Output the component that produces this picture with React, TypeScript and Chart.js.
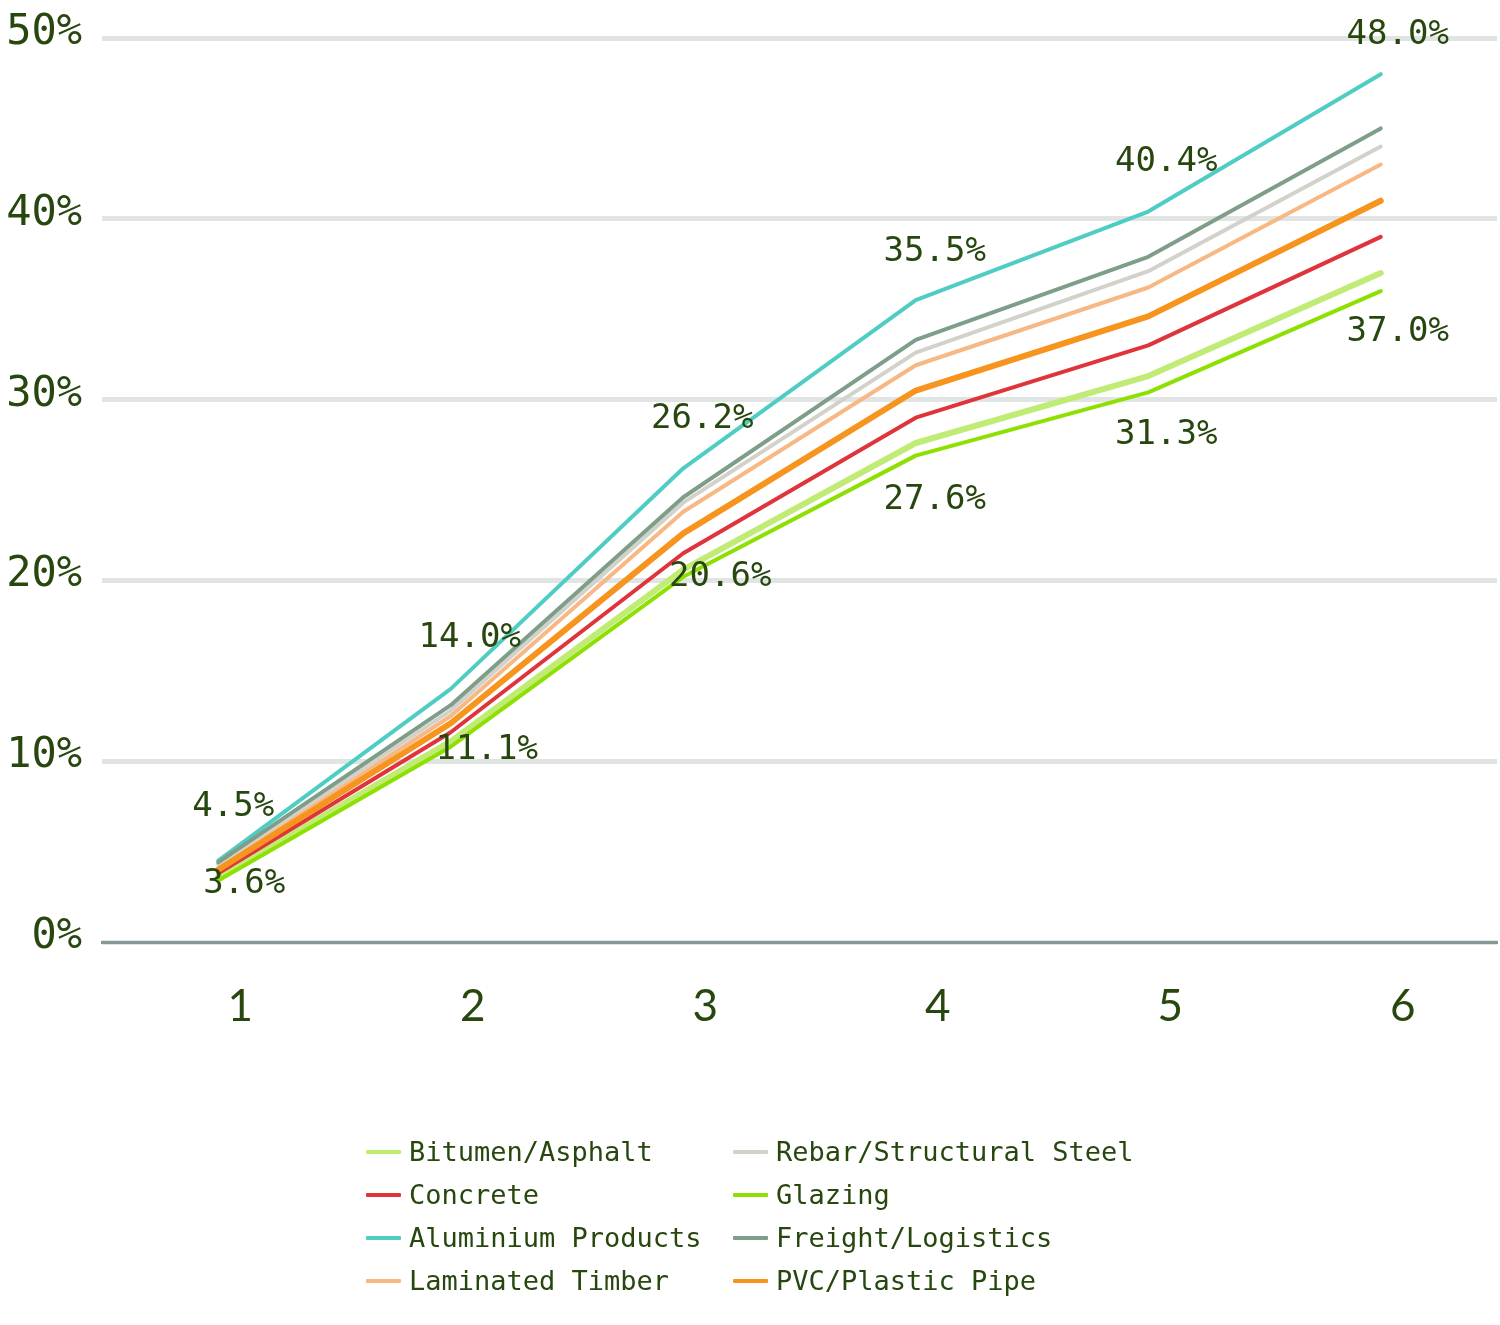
import { useEffect, useRef } from 'react'
import { Chart, registerables } from 'chart.js'

Chart.register(...registerables)

// periods on the x axis
const periods = ['1', '2', '3', '4', '5', '6']

// cumulative increase per material, in %
const bitumen = [3.6, 11.1, 20.6, 27.6, 31.3, 37.0]
const concrete = [3.8, 11.6, 21.5, 29.0, 33.0, 39.0]
const aluminium = [4.5, 14.0, 26.2, 35.5, 40.4, 48.0]
const laminated = [4.1, 12.5, 23.8, 31.9, 36.2, 43.0]
const rebar = [4.3, 12.8, 24.3, 32.6, 37.1, 44.0]
const glazing = [3.4, 10.8, 20.2, 26.9, 30.4, 36.0]
const freight = [4.4, 13.1, 24.6, 33.3, 37.9, 45.0]
const pvc = [4.0, 12.1, 22.6, 30.5, 34.6, 41.0]

const yTicks = [0, 10, 20, 30, 40, 50]

const TEXT = '#27470f'
const MONO = '"DejaVu Sans Mono", "Liberation Mono", monospace'

const series = [
  { label: 'Bitumen/Asphalt', data: bitumen, color: '#c0ec76', width: 6 },
  { label: 'Concrete', data: concrete, color: '#df343b', width: 4 },
  { label: 'Aluminium Products', data: aluminium, color: '#4fcdc4', width: 4 },
  { label: 'Laminated Timber', data: laminated, color: '#f8b884', width: 4 },
  { label: 'Rebar/Structural Steel', data: rebar, color: '#d2d2ca', width: 4 },
  { label: 'Glazing', data: glazing, color: '#8ee002', width: 4 },
  { label: 'Freight/Logistics', data: freight, color: '#7f9e89', width: 4 },
  { label: 'PVC/Plastic Pipe', data: pvc, color: '#f7941d', width: 6 },
]

// legend grid order: left column then right column
const legendLeft = ['Bitumen/Asphalt', 'Concrete', 'Aluminium Products', 'Laminated Timber']
const legendRight = ['Rebar/Structural Steel', 'Glazing', 'Freight/Logistics', 'PVC/Plastic Pipe']

// label nudges (px) relative to the point they annotate
const topNudge = [[15, -53], [19, -51], [19, -49], [19, -48], [18, -49], [17, -39]]
const bottomNudge = [[26, 7], [36, 9], [37, 8], [19, 57], [18, 59], [17, 59]]

const valueLabels = {
  id: 'valueLabels',
  afterDatasetsDraw(chart: Chart) {
    const { ctx } = chart
    const topIdx = series.findIndex(s => s.data === aluminium)
    const botIdx = series.findIndex(s => s.data === bitumen)
    ctx.save()
    ctx.font = `34px ${MONO}`
    ctx.fillStyle = TEXT
    ctx.textAlign = 'center'
    ctx.textBaseline = 'middle'
    const draw = (idx: number, nudge: number[][]) => {
      const meta = chart.getDatasetMeta(idx)
      meta.data.forEach((pt: any, i: number) => {
        const v = series[idx].data[i]
        ctx.fillText(v.toFixed(1) + '%', pt.x + nudge[i][0], pt.y + nudge[i][1])
      })
    }
    draw(topIdx, topNudge)
    draw(botIdx, bottomNudge)
    ctx.restore()
  },
}

function LegendItem({ label }: { label: string }) {
  const s = series.find(x => x.label === label)!
  return (
    <div style={{ display: 'flex', alignItems: 'center', height: 43 }}>
      <span style={{ width: 35, height: 4, background: s.color, marginRight: 8, borderRadius: 1 }} />
      <span>{label}</span>
    </div>
  )
}

export default function App() {
  const canvasRef = useRef<HTMLCanvasElement>(null)

  useEffect(() => {
    if (!canvasRef.current) return
    const chart = new Chart(canvasRef.current, {
      type: 'line',
      data: {
        labels: periods,
        datasets: series.map((s, i) => ({
          label: s.label,
          data: s.data,
          borderColor: s.color,
          backgroundColor: s.color,
          borderWidth: s.width,
          borderCapStyle: 'round',
          borderJoinStyle: 'round',
          pointRadius: 0,
          tension: 0,
          order: series.length - i,
        })),
      },
      options: {
        animation: false,
        responsive: false,
        layout: { padding: { top: 38, right: 3, bottom: 293, left: 0 } },
        plugins: {
          legend: { display: false },
          tooltip: { enabled: false },
        },
        scales: {
          x: {
            offset: true,
            grid: { display: false, drawTicks: false },
            border: { display: true, color: '#86979a', width: 3 },
            ticks: {
              color: TEXT,
              font: { family: 'Lato, sans-serif', size: 44 },
              padding: 38,
              labelOffset: 22,
            },
            afterFit: (s: any) => { s.height = 90 },
          },
          y: {
            min: 0,
            max: 50,
            afterBuildTicks: (s: any) => { s.ticks = yTicks.map(v => ({ value: v })) },
            grid: { color: '#e0e4e3', lineWidth: 5, drawTicks: false },
            border: { display: false },
            ticks: {
              color: TEXT,
              font: { family: MONO, size: 42 },
              padding: 20,
              labelOffset: -5,
              callback: (v: any) => `${v}%`,
            },
            afterFit: (s: any) => {
              s.width = 102
              s.paddingTop = 0
              s.paddingBottom = 0
            },
          },
        },
      },
      plugins: [valueLabels],
    })
    return () => chart.destroy()
  }, [])

  return (
    <div style={{ position: 'absolute', left: 0, top: 0, width: 1500, height: 1325, background: '#fff' }}>
      <canvas ref={canvasRef} width={1500} height={1325} style={{ display: 'block' }} />
      <div
        style={{
          position: 'absolute',
          left: 366,
          top: 1130,
          display: 'grid',
          gridTemplateColumns: '367px auto',
          fontFamily: MONO,
          fontSize: 27,
          color: TEXT,
          whiteSpace: 'pre',
        }}
      >
        {legendLeft.map((l, i) => [
          <LegendItem key={l} label={l} />,
          <LegendItem key={legendRight[i]} label={legendRight[i]} />,
        ])}
      </div>
    </div>
  )
}
